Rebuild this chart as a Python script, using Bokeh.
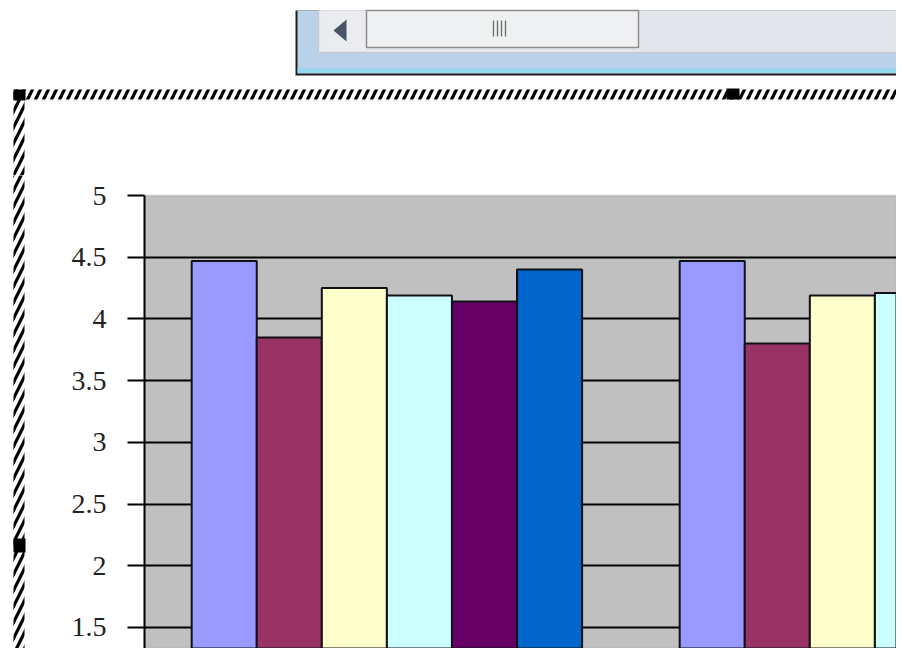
from bokeh.plotting import figure
from bokeh.layouts import column, row
from bokeh.models import (Range1d, FixedTicker, NumeralTickFormatter, ColumnDataSource,
                          BoxAnnotation)
from bokeh.embed import file_html
from bokeh.resources import INLINE

# ---- data ----
categories = ["Category 1", "Category 2"]
series_names = ["Series1", "Series2", "Series3", "Series4", "Series5", "Series6"]
series_colors = ["#9999FF", "#993366", "#FFFFCC", "#CCFFFF", "#660066", "#0066CC"]
values_s1 = [4.47, 4.47]
values_s2 = [3.85, 3.80]
values_s3 = [4.25, 4.19]
values_s4 = [4.19, 4.21]
values_s5 = [4.14, float("nan")]   # second value outside the visible crop
values_s6 = [4.40, float("nan")]   # second value outside the visible crop
y_tick_values = [0, 0.5, 1, 1.5, 2, 2.5, 3, 3.5, 4, 4.5, 5]
y_max = 5
all_series = [values_s1, values_s2, values_s3, values_s4, values_s5, values_s6]

W, H = 896, 648
TOP_H = 175          # height of the decoration strip above the chart row
LEFT_W = 30          # width of the decoration strip left of the chart
PLOT_TOP = 195       # page y of the value 5 (top of the plot area)
PLOT_LEFT = 144      # page x of the value axis


def deco_fig(w, h, x0, y0):
    f = figure(width=w, height=h, output_backend="svg", toolbar_location=None,
               x_range=Range1d(x0, x0 + w), y_range=Range1d(y0 + h, y0),
               x_axis_location=None, y_axis_location=None,
               min_border=0)
    f.outline_line_color = None
    f.background_fill_color = "white"
    f.border_fill_color = "white"
    f.grid.visible = False
    return f


HATCH = dict(hatch_pattern="/", hatch_color="black", hatch_weight=3.2, hatch_scale=16)

# ---- top strip: window scrollbar + top of the selection border ----
top = deco_fig(W, TOP_H, 0, 0)
top.quad(left=295, right=905, top=10, bottom=75, fill_color="#1E1E1E", line_color=None)
top.quad(left=297, right=905, top=10, bottom=73, fill_color="#BAD1EA", line_color=None)
top.quad(left=297, right=905, top=68, bottom=72, fill_color="#8FD8EE", line_color=None)
top.quad(left=318, right=905, top=10, bottom=52, fill_color="#E3E6EB",
         line_color="#C4C8CE", line_width=1)
top.quad(left=320, right=365, top=10, bottom=50, fill_color="#EAECEF", line_color=None)
top.quad(left=366, right=638, top=10, bottom=47, fill_color="#EFF0F2",
         line_color="#8E8E8E", line_width=1.5)
top.segment(x0=[493, 497, 501, 505], y0=[20] * 4, x1=[493, 497, 501, 505], y1=[36] * 4,
            line_color="#6A6A6A", line_width=1.3)
top.patch(x=[333, 346, 346], y=[30, 19, 41], fill_color="#4B5466", line_color=None)
top.quad(left=13, right=905, top=89, bottom=99, fill_color="white", line_color=None, **HATCH)
top.quad(left=13, right=24, top=89, bottom=TOP_H + 1, fill_color="white",
         line_color=None, **HATCH)
top.quad(left=[13, 726], right=[25, 739], top=[89, 88], bottom=[100, 99],
         fill_color="black", line_color=None)

# ---- left strip: left part of the selection border ----
left = deco_fig(LEFT_W, H - TOP_H, 0, TOP_H)
left.quad(left=13, right=24, top=TOP_H - 1, bottom=H + 2, fill_color="white",
          line_color=None, **HATCH)
left.quad(left=13, right=25, top=538, bottom=552, fill_color="black", line_color=None)

# ---- main chart ----
MW, MH = W - LEFT_W, H - TOP_H
ML = PLOT_LEFT - LEFT_W
PX_PER_CAT = 488.0
PX_PER_UNIT = 123.4
fw = MW - ML
x0 = 0.0033
y_top = y_max + (PLOT_TOP - TOP_H) / PX_PER_UNIT
y_bottom = y_max - (H - PLOT_TOP) / PX_PER_UNIT

p = figure(width=MW, height=MH, output_backend="svg", toolbar_location=None,
           x_range=Range1d(x0, x0 + fw / PX_PER_CAT),
           y_range=Range1d(y_bottom, y_top),
           x_axis_location=None,
           min_border_left=ML, min_border_top=0,
           min_border_right=0, min_border_bottom=0)

p.background_fill_color = "white"
p.border_fill_color = "white"
p.outline_line_color = None

# plot area (grey) up to the axis maximum
p.add_layout(BoxAnnotation(top=y_max, fill_color="#C0C0C0", fill_alpha=1.0,
                           line_color="#9A9A9A", line_width=2, level="image"))

n_series = len(all_series)
bar_w = 1.0 / (n_series + 1.5)   # gap width 150%
for k, (name, col, vals) in enumerate(zip(series_names, series_colors, all_series)):
    xs = [g + 0.5 + (k - (n_series - 1) / 2) * bar_w for g in range(len(categories))]
    src = ColumnDataSource(dict(x=xs, top=vals, cat=categories))
    p.vbar(x="x", top="top", bottom=0, width=bar_w, source=src,
           fill_color=col, line_color="#101018", line_width=2)

ax = p.yaxis[0]
ax.ticker = FixedTicker(ticks=y_tick_values)
ax.formatter = NumeralTickFormatter(format="0.[0]")
ax.bounds = (0, y_max)
ax.axis_line_color = "black"
ax.axis_line_width = 2
ax.major_tick_line_color = "black"
ax.major_tick_line_width = 2
ax.major_tick_out = 17
ax.major_tick_in = 0
ax.minor_tick_line_color = None
ax.major_label_standoff = 21
ax.major_label_text_font = "Liberation Serif"
ax.major_label_text_font_size = "28px"
ax.major_label_text_color = "#222222"

p.xgrid.visible = False
p.ygrid.ticker = FixedTicker(ticks=[v for v in y_tick_values if v < y_max])
p.ygrid.grid_line_color = "black"
p.ygrid.grid_line_width = 2

layout = column(top, row(left, p, spacing=0), spacing=0)

open("out.html", "w").write(file_html(layout, INLINE))
